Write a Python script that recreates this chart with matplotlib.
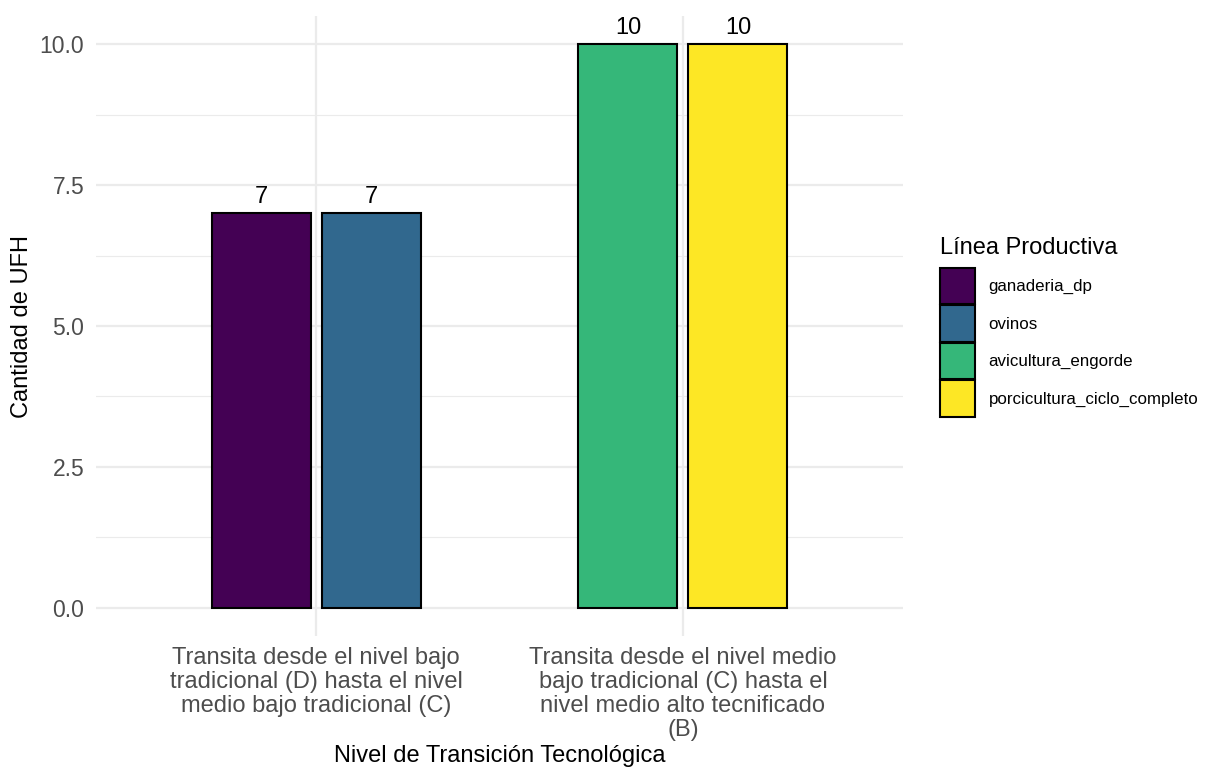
import matplotlib.pyplot as plt
import matplotlib.patches as mpatches
import numpy as np

# Datos
niveles = [
    "Transita desde el nivel bajo\ntradicional (D) hasta el nivel\nmedio bajo tradicional (C)",
    "Transita desde el nivel medio\nbajo tradicional (C) hasta el\nnivel medio alto tecnificado\n(B)",
]
lineas = ["ganaderia_dp", "ovinos", "avicultura_engorde", "porcicultura_ciclo_completo"]
colores = ["#440154", "#31688E", "#35B779", "#FDE725"]
linea_por_nivel = [["ganaderia_dp", "ovinos"], ["avicultura_engorde", "porcicultura_ciclo_completo"]]
ufh_por_nivel = [[7, 7], [10, 10]]

plt.rcParams['font.family'] = ['Liberation Sans', 'DejaVu Sans']

fig = plt.figure(figsize=(12.29, 7.69), dpi=100)
ax = fig.add_axes([96/1229, 1-636/769, (903-96)/1229, (636-16)/769])

x = np.arange(1, len(niveles) + 1)
offsets = [-0.15, 0.15]
for i, (lins, vals) in enumerate(zip(linea_por_nivel, ufh_por_nivel)):
    for off, lin, v in zip(offsets, lins, vals):
        c = colores[lineas.index(lin)]
        ax.bar(x[i] + off, v, width=0.27, color=c, edgecolor='black', linewidth=1.5, zorder=3)
        ax.text(x[i] + off, v + 0.1, str(v), ha='center', va='bottom', fontsize=17, color='black')

ax.set_xlim(0.4, 2.6)
ax.set_ylim(-0.5, 10.5)
ax.set_xticks(x)
ax.set_xticklabels(niveles, fontsize=17, color='#4D4D4D', linespacing=1.12)
ax.set_yticks([0, 2.5, 5, 7.5, 10])
ax.set_yticklabels(["0.0", "2.5", "5.0", "7.5", "10.0"], fontsize=16.5, color='#4D4D4D')
ax.set_yticks([1.25, 3.75, 6.25, 8.75], minor=True)
ax.tick_params(axis='x', length=0, pad=8)
ax.tick_params(axis='y', length=0, pad=8.5)
ax.tick_params(axis='y', which='minor', length=0)
ax.grid(True, which='major', color='#EBEBEB', linewidth=1.6, zorder=0)
ax.grid(True, which='minor', axis='y', color='#EBEBEB', linewidth=0.8, zorder=0)
for s in ax.spines.values():
    s.set_visible(False)

ax.set_ylabel("Cantidad de UFH", fontsize=17, labelpad=5)
ax.set_xlabel("Nivel de Transición Tecnológica", fontsize=17, labelpad=3)

handles = [mpatches.Patch(facecolor=c, edgecolor='black', linewidth=1.5, label=l)
           for c, l in zip(colores, lineas)]
leg = fig.legend(handles=handles, title="Línea Productiva", loc='upper left',
                 bbox_to_anchor=(937/1229, 1-234/769), frameon=False, fontsize=12.2,
                 title_fontsize=17, handlelength=2.05, handleheight=2.95, labelspacing=0.05,
                 handletextpad=0.8, alignment='left', borderaxespad=0, borderpad=0.2)
leg._legend_box.sep = 6

fig.savefig("out.png", dpi=100)
